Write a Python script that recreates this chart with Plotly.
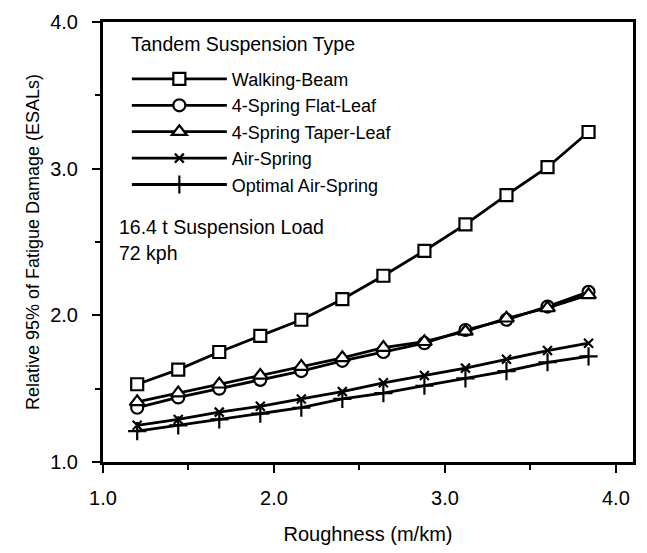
import plotly.graph_objects as go

roughness = [1.20, 1.44, 1.68, 1.92, 2.16, 2.40, 2.64, 2.88, 3.12, 3.36, 3.60, 3.84]
walking_beam = [1.53, 1.63, 1.75, 1.86, 1.97, 2.11, 2.27, 2.44, 2.62, 2.82, 3.01, 3.25]
flat_leaf = [1.37, 1.44, 1.50, 1.56, 1.62, 1.69, 1.75, 1.81, 1.90, 1.97, 2.06, 2.16]
taper_leaf = [1.41, 1.47, 1.53, 1.59, 1.65, 1.71, 1.78, 1.82, 1.89, 1.98, 2.05, 2.14]
air_spring = [1.25, 1.29, 1.34, 1.38, 1.43, 1.48, 1.54, 1.59, 1.64, 1.70, 1.76, 1.81]
optimal_air = [1.21, 1.25, 1.29, 1.33, 1.37, 1.43, 1.47, 1.52, 1.57, 1.62, 1.68, 1.72]

series = [
    ("Walking-Beam", walking_beam, "square", 12),
    ("4-Spring Flat-Leaf", flat_leaf, "circle", 12),
    ("4-Spring Taper-Leaf", taper_leaf, "triangle-up", 13),
    ("Air-Spring", air_spring, "x-thin", 9),
    ("Optimal Air-Spring", optimal_air, "cross-thin", 13),
]

fig = go.Figure()
for name, vals, sym, sz in series:
    fig.add_trace(go.Scatter(
        x=roughness, y=vals, name=name, mode="lines+markers",
        line=dict(color="black", width=2.8),
        marker=dict(symbol=sym, size=sz, color="white",
                    line=dict(color="black", width=2.2)),
    ))

font = "Liberation Sans, Arial, Helvetica, sans-serif"
fig.update_layout(
    width=647, height=553,
    margin=dict(l=103, r=11, t=19, b=81),
    paper_bgcolor="white", plot_bgcolor="white",
    font=dict(family=font, size=20, color="black"),
    showlegend=True,
    legend=dict(
        x=0.045, y=0.912, xanchor="left", yanchor="top",
        font=dict(size=18), bgcolor="rgba(0,0,0,0)",
        tracegroupgap=0, itemwidth=95,
    ),
    annotations=[
        dict(text="Tandem Suspension Type", xref="paper", yref="paper",
             x=0.049, y=0.949, xanchor="left", yanchor="middle",
             showarrow=False, font=dict(size=19.5)),
        dict(text="16.4 t Suspension Load", xref="paper", yref="paper",
             x=0.026, y=0.534, xanchor="left", yanchor="middle",
             showarrow=False, font=dict(size=19.5)),
        dict(text="72 kph", xref="paper", yref="paper",
             x=0.026, y=0.475, xanchor="left", yanchor="middle",
             showarrow=False, font=dict(size=19.5)),
    ],
)
fig.update_xaxes(
    range=[1.0, 4.1], tickvals=[1.0, 2.0, 3.0, 4.0], ticktext=["1.0", "2.0", "3.0", "4.0"],
    ticks="outside", ticklen=8, tickwidth=2, tickcolor="black", ticklabelstandoff=8,
    minor=dict(tickvals=[1.5, 2.5, 3.5], ticks="outside", ticklen=5, tickwidth=2, tickcolor="black"),
    showline=True, linecolor="black", linewidth=3, mirror=True,
    showgrid=False, zeroline=False,
    title=dict(text="Roughness (m/km)", standoff=19, font=dict(size=20)),
)
fig.update_yaxes(
    range=[1.0, 4.0], tickvals=[1.0, 2.0, 3.0, 4.0], ticktext=["1.0", "2.0", "3.0", "4.0"],
    ticks="outside", ticklen=8, tickwidth=2, tickcolor="black", ticklabelstandoff=10,
    minor=dict(tickvals=[1.5, 2.5, 3.5], ticks="outside", ticklen=5, tickwidth=2, tickcolor="black"),
    showline=True, linecolor="black", linewidth=3, mirror=True,
    showgrid=False, zeroline=False,
    title=dict(text="Relative 95% of Fatigue Damage (ESALs)", standoff=6, font=dict(size=18)),
)
fig.write_html("out.html")
